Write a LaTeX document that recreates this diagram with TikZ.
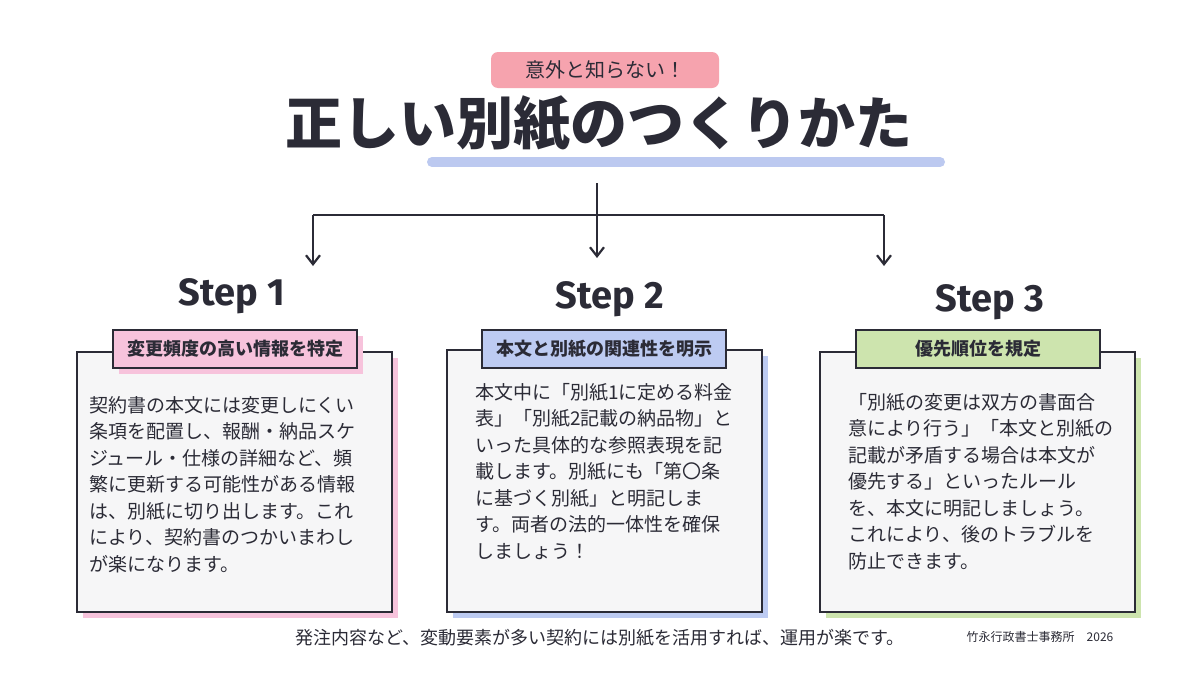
\documentclass[tikz,border=0pt]{standalone}
\usepackage{fontspec}
\setmainfont{Noto Sans CJK JP}
\newfontfamily\stepfont{Fira Sans}
\usetikzlibrary{positioning,arrows.meta}
\definecolor{ink}{HTML}{2B2B36}
\definecolor{pinkA}{HTML}{F6A3AE}
\definecolor{pinkB}{HTML}{F7C3DC}
\definecolor{blueB}{HTML}{BDCBF2}
\definecolor{greenB}{HTML}{CDE4AE}
\definecolor{hilite}{HTML}{BCC9F0}
\definecolor{paper}{HTML}{F6F6F7}
\tikzset{
  card/.style={draw=ink, line width=2.2pt, fill=paper},
  tab/.style={draw=ink, line width=2.2pt, minimum width=244pt, minimum height=38pt,
    inner sep=0pt, font=\fontsize{18}{18}\selectfont\bfseries, text=ink},
  body/.style={anchor=north west, align=left, inner sep=0pt, text=ink,
    font=\fontsize{19}{26.5}\selectfont},
  steplbl/.style={font=\stepfont\fontsize{38}{38}\selectfont\bfseries, text=ink},
  flow/.style={draw=ink, line width=2.2pt, -{Straight Barb[length=9pt,width=14pt,line width=2.2pt]}}
}
\begin{document}
\begin{tikzpicture}[x=1pt, y=-1pt]
\useasboundingbox (0,0) rectangle (1200,675);
\fill[white] (0,0) rectangle (1200,675);

%heading
\node[fill=pinkA, rounded corners=7pt, minimum width=228pt, minimum height=36pt,
  font=\fontsize{20}{20}\selectfont, text=ink] (kicker) at (605,70) {意外と知らない！};
\draw[hilite, line width=10pt, line cap=round] (432,162) -- (940,162);
\node[font=\fontsize{57}{57}\selectfont\bfseries, text=ink] (title) at (599,124) {正しい別紙のつくりかた};

%arrows
\coordinate (top) at (597,183);
\coordinate (split) at (597,215);
\coordinate (left) at (313,215);
\coordinate (right) at (884,215);
\draw[ink, line width=2.2pt] (top) -- (split);
\draw[ink, line width=2.2pt] (left) -- (right);
\draw[flow] (split) -- (597,258);
\draw[flow] (left) -- (313,266);
\draw[flow] (right) -- (884,266);

%step labels
\node[steplbl] (s1) at (232,296) {Step 1};
\node[steplbl] (s2) at (610,299) {Step 2};
\node[steplbl] (s3) at (990,302) {Step 3};

%card 1
\fill[pinkB] (83,358) rectangle (398,618);
\draw[card] (77,352) rectangle (392,612);
\fill[pinkB] (119,336) rectangle (363,374);
\node[tab, fill=pinkB] (t1) at (235,349) {変更頻度の高い情報を特定};
\node[body] (b1) at (89,396) {契約書の本文には変更しにくい\\条項を配置し、報酬・納品スケ\\ジュール・仕様の詳細など、頻\\繁に更新する可能性がある情報\\は、別紙に切り出します。これ\\により、契約書のつかいまわし\\が楽になります。};

%card 2
\fill[blueB] (453,356) rectangle (768,618);
\draw[card] (447,350) rectangle (762,612);
\node[tab, fill=blueB] (t2) at (604,349) {本文と別紙の関連性を明示};
\node[body] (b2) at (475,383) {本文中に「別紙1に定める料金\\表」「別紙2記載の納品物」と\\いった具体的な参照表現を記\\載します。別紙にも「第〇条\\に基づく別紙」と明記しま\\す。両者の法的一体性を確保\\しましょう！};

%card 3
\fill[greenB] (826,358) rectangle (1141,618);
\draw[card] (820,352) rectangle (1135,612);
\node[tab, fill=greenB] (t3) at (978,349) {優先順位を規定};
\node[body] (b3) at (848,393) {「別紙の変更は双方の書面合\\意により行う」「本文と別紙の\\記載が矛盾する場合は本文が\\優先する」といったルール\\を、本文に明記しましょう。\\これにより、後のトラブルを\\防止できます。};

%footer
\node[font=\fontsize{18}{18}\selectfont, text=ink] (note) at (600,638) {発注内容など、変動要素が多い契約には別紙を活用すれば、運用が楽です。};
\node[font=\fontsize{12}{12}\selectfont, text=ink] (firm) at (1040,637) {竹永行政書士事務所\quad 2026};
\end{tikzpicture}
\end{document}
